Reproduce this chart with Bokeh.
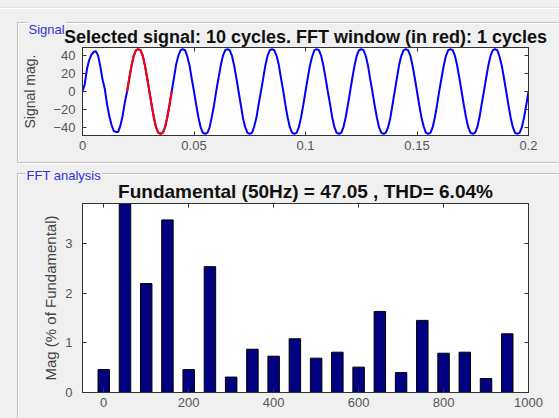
import numpy as np
from bokeh.plotting import figure
from bokeh.layouts import column
from bokeh.models import (ColumnDataSource, FixedTicker, Range1d, LinearAxis, Title)
from bokeh.embed import file_html
from bokeh.resources import INLINE

# ---------------- data ----------------
sample_step = 0.001  # s
sig_cycles = [
    [0, 8, 25, 35, 41, 44, 45, 40, 28, 13, 3, -14, -27, -37, -44, -45, -45, -38, -27, -12],
    [0, 15, 29, 40, 46, 47, 46, 40, 29, 15, 0, -15, -29, -40, -46, -47, -46, -40, -29, -15],
    [0, 15, 30, 40, 46, 47, 46, 39, 29, 14, 0, -15, -29, -40, -46, -47, -46, -40, -28, -15],
    [1, 15, 29, 40, 46, 47, 46, 40, 29, 15, 0, -15, -30, -40, -46, -47, -46, -39, -29, -14],
    [0, 14, 29, 40, 46, 47, 46, 40, 30, 15, 1, -15, -29, -40, -46, -47, -46, -40, -29, -15],
    [0, 15, 29, 39, 46, 47, 46, 40, 29, 15, 0, -14, -29, -40, -46, -47, -46, -40, -29, -15],
    [0, 15, 29, 40, 46, 47, 46, 40, 29, 14, 0, -15, -29, -40, -46, -47, -46, -40, -30, -15],
    [0, 15, 30, 40, 46, 47, 46, 40, 29, 15, 0, -15, -29, -39, -46, -47, -46, -40, -29, -15],
    [1, 15, 29, 40, 46, 47, 46, 40, 29, 15, 0, -15, -29, -40, -46, -47, -46, -40, -29, -14],
    [0, 15, 29, 40, 46, 47, 46, 39, 29, 15, 0, -15, -29, -40, -46, -47, -46, -40, -29, -15],
]
sig_end = [0]
window_start, window_end = 20, 40   # sample indices of the FFT window (1 cycle)

sig_xticks = [0, 0.05, 0.1, 0.15, 0.2]
sig_xlabels = ["0", "0.05", "0.1", "0.15", "0.2"]
sig_yticks = [-40, -20, 0, 20, 40]

fft_freq = [0, 50, 100, 150, 200, 250, 300, 350, 400, 450,
            500, 550, 600, 650, 700, 750, 800, 850, 900, 950]
fft_mag = [0.46, 100, 2.19, 3.47, 0.46, 2.53, 0.31, 0.87, 0.73, 1.08,
           0.69, 0.81, 0.51, 1.63, 0.40, 1.45, 0.79, 0.81, 0.28, 1.18]
fft_xticks = [0, 200, 400, 600, 800, 1000]
fft_yticks = [0, 1, 2, 3]

title_sig = "Selected signal: 10 cycles. FFT window (in red): 1 cycles"
title_fft = "Fundamental (50Hz) = 47.05 , THD= 6.04%"

# ---------------- build ----------------
sig_y = [v for c in sig_cycles for v in c] + sig_end
sig_t = [i * sample_step for i in range(len(sig_y))]
src_all = ColumnDataSource(dict(t=sig_t, y=sig_y))
src_win = ColumnDataSource(dict(t=sig_t[window_start:window_end + 1],
                                y=sig_y[window_start:window_end + 1]))

BG = "#f0f0f0"
FONT = "Liberation Sans"
TICK_COL = "#555555"
FRAME_COL = "#333333"
EDGE = "#c2c2c2"


def box_axis(ticks):
    return LinearAxis(ticker=FixedTicker(ticks=ticks), major_label_text_font_size="1px",
                      major_label_text_color=None,
                      major_tick_in=4, major_tick_out=0, minor_tick_line_color=None,
                      axis_line_color=FRAME_COL, major_tick_line_color=FRAME_COL,
                      major_label_standoff=0)


def style_axes(p, xticks, yticks):
    p.grid.visible = False
    for ax in p.axis:
        ax.major_tick_in = 4
        ax.major_tick_out = 0
        ax.minor_tick_line_color = None
        ax.axis_line_color = FRAME_COL
        ax.major_tick_line_color = FRAME_COL
        ax.major_label_text_font = FONT
        ax.major_label_text_font_size = "13px"
        ax.major_label_text_color = TICK_COL
        ax.axis_label_text_font = FONT
        ax.axis_label_text_font_style = "normal"
        ax.axis_label_text_color = "#444444"
    p.xaxis.ticker = FixedTicker(ticks=xticks)
    p.yaxis.ticker = FixedTicker(ticks=yticks)
    p.add_layout(box_axis(yticks), "right")
    p.add_layout(box_axis(xticks), "above")


def titles(p, main_text, main_size, main_standoff, label_text, label_offset, label_standoff):
    p.add_layout(Title(text=main_text, align="center", text_font=FONT,
                       text_font_size=main_size, text_font_style="bold",
                       text_color="#111111", text_baseline="alphabetic",
                       standoff=main_standoff), "above")
    p.add_layout(Title(text=label_text, align="left", offset=label_offset,
                       text_font=FONT, text_font_size="13px", text_font_style="normal",
                       text_color="#3232d2", text_baseline="middle",
                       standoff=label_standoff, background_fill_color=BG,
                       padding=1), "above")


def panel_css(top, bottom, height, page_top_line=False):
    g = "linear-gradient({0},{0})"
    imgs, sizes, pos = [], [], []
    if page_top_line:
        imgs += [g.format("#e2e2e2"), g.format("#ffffff")]
        sizes += ["100% 1px", "100% 1px"]
        pos += ["0px 7px", "0px 8px"]
    imgs += [g.format(EDGE), g.format("#ffffff")]
    sizes += ["calc(100% - 17px) 1px", "calc(100% - 18px) 1px"]
    pos += [f"17px {top}px", f"18px {top + 1}px"]
    if bottom is not None:
        imgs += [g.format(EDGE), g.format("#ffffff")]
        sizes += ["calc(100% - 17px) 1px", "calc(100% - 17px) 1px"]
        pos += [f"17px {bottom}px", f"17px {bottom + 1}px"]
        vlen = bottom - top
    else:
        vlen = height - top
    imgs += [g.format(EDGE), g.format("#ffffff")]
    sizes += [f"1px {vlen}px", f"1px {vlen - 1}px"]
    pos += [f"17px {top}px", f"18px {top + 1}px"]
    return {"background-color": BG,
            "background-image": ", ".join(imgs),
            "background-size": ", ".join(sizes),
            "background-position": ", ".join(pos),
            "background-repeat": "no-repeat"}


# --- signal figure
p1 = figure(width=559, height=165, x_range=Range1d(0, 0.2), y_range=Range1d(-49, 49),
            output_backend="svg", toolbar_location=None, title=None,
            min_border_left=80, min_border_right=29, min_border_top=47, min_border_bottom=30,
            border_fill_color=BG, border_fill_alpha=0, background_fill_color="white",
            outline_line_color=FRAME_COL, styles=panel_css(22, 162, 165, True))
p1.line("t", "y", source=src_all, line_color="#0000ff", line_width=2)
p1.line("t", "y", source=src_win, line_color="#ff0000", line_width=2)
style_axes(p1, sig_xticks, sig_yticks)
p1.xaxis[0].major_label_overrides = {k: v for k, v in zip(sig_xticks, sig_xlabels)}
p1.yaxis[0].axis_label = "Signal mag."
p1.yaxis[0].axis_label_text_font_size = "14px"
p1.yaxis[0].major_label_standoff = 7
p1.yaxis[0].axis_label_standoff = 12
p1.xaxis[0].major_label_standoff = 7
titles(p1, title_sig, "18px", 2, "Signal", -55, -28)

# --- FFT figure
p2 = figure(width=559, height=253, x_range=Range1d(-50, 1000), y_range=Range1d(0, 3.8),
            output_backend="svg", toolbar_location=None, title=None,
            min_border_left=82, min_border_right=31, min_border_top=38, min_border_bottom=26,
            border_fill_color=BG, border_fill_alpha=0, background_fill_color="white",
            outline_line_color=FRAME_COL, styles=panel_css(8, None, 253))
p2.vbar(x=fft_freq, top=fft_mag, bottom=0, width=27, fill_color="#000080",
        line_color="#000000", line_width=1)
style_axes(p2, fft_xticks, fft_yticks)
p2.yaxis[0].axis_label = "Mag (% of Fundamental)"
p2.yaxis[0].axis_label_text_font_size = "15px"
p2.yaxis[0].major_label_standoff = 10
p2.yaxis[0].axis_label_standoff = 3
p2.xaxis[0].major_label_standoff = 10
titles(p2, title_fft, "19px", 4, "FFT analysis", -57, -14)

layout = column(p1, p2, spacing=0, styles={"background-color": BG})
open("out.html", "w").write(file_html(layout, INLINE))
